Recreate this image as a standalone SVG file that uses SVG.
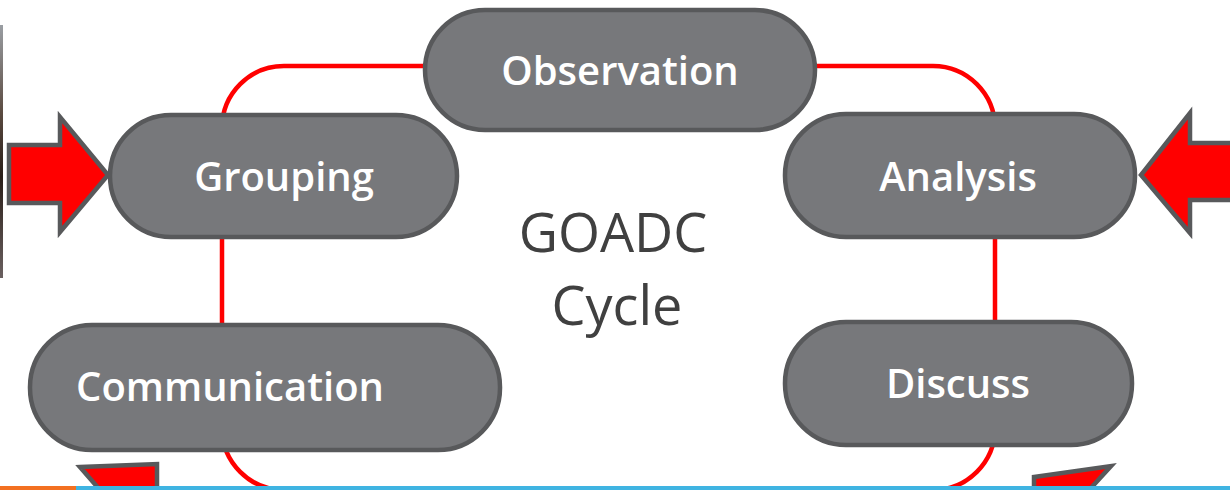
<svg xmlns="http://www.w3.org/2000/svg" width="1230" height="490" viewBox="0 0 1230 490">
<style>
.pill{fill:#77787b;stroke:#58595b;stroke-width:4.5}
.lbl{fill:#ffffff;font-family:"Open Sans","Liberation Sans",sans-serif;font-size:40px;font-weight:600;text-anchor:middle}
.arrow{fill:#ff0000;stroke:#58595b;stroke-width:4.5;stroke-linejoin:miter}
.loop{fill:none;stroke:#ff0000;stroke-width:4.5}
.title{fill:#404040;font-family:"Open Sans","Liberation Sans",sans-serif;font-size:54px;text-anchor:middle}
</style>
<defs>
<linearGradient id="photo" x1="0" y1="0" x2="0" y2="1">
<stop offset="0" stop-color="#9a9ea3"/>
<stop offset="0.35" stop-color="#5a4a40"/>
<stop offset="0.6" stop-color="#2a1e18"/>
<stop offset="1" stop-color="#6a6060"/>
</linearGradient>
</defs>
<rect x="0" y="0" width="1230" height="490" fill="#ffffff"/>
<rect x="0" y="25" width="3" height="253" fill="url(#photo)"/>
<g id="connectors">
<rect class="loop" x="222" y="66" width="773" height="424" rx="62" ry="62"/>
</g>
<g id="arrow-left">
<polygon class="arrow" points="9,145 60,145 60,117 108,175 60,232 60,203 9,203"/>
</g>
<g id="arrow-right">
<polygon class="arrow" points="1236,143 1190,143 1190,113 1141,175 1190,233 1190,200 1236,200"/>
</g>
<g id="arrow-bottom-left">
<polygon class="arrow" points="80,467 157,464 157,500 108,500 100,490"/>
</g>
<g id="arrow-bottom-right">
<polygon class="arrow" points="1034,477 1111,466 1080,500 1034,500"/>
</g>
<g id="strip">
<rect x="0" y="486" width="76" height="4" fill="#f37021"/>
<rect x="76" y="486" width="1154" height="4" fill="#3fb4e2"/>
</g>
<g id="observation">
<rect class="pill" x="425" y="10" width="390" height="120" rx="60" ry="60"/>
<text class="lbl" x="620" y="85">Observation</text>
</g>
<g id="grouping">
<rect class="pill" x="110" y="115" width="347" height="122" rx="61" ry="61"/>
<text class="lbl" x="284" y="191">Grouping</text>
</g>
<g id="analysis">
<rect class="pill" x="785" y="114" width="350" height="123" rx="61" ry="61"/>
<text class="lbl" x="958" y="191">Analysis</text>
</g>
<g id="communication">
<rect class="pill" x="30" y="325" width="470" height="125" rx="62" ry="62"/>
<text class="lbl" x="230" y="401">Communication</text>
</g>
<g id="discuss">
<rect class="pill" x="785" y="322" width="347" height="123" rx="61" ry="61"/>
<text class="lbl" x="958" y="398">Discuss</text>
</g>
<g id="title">
<text class="title" x="613" y="252">GOADC</text>
<text class="title" x="617" y="325">Cycle</text>
</g>
</svg>
